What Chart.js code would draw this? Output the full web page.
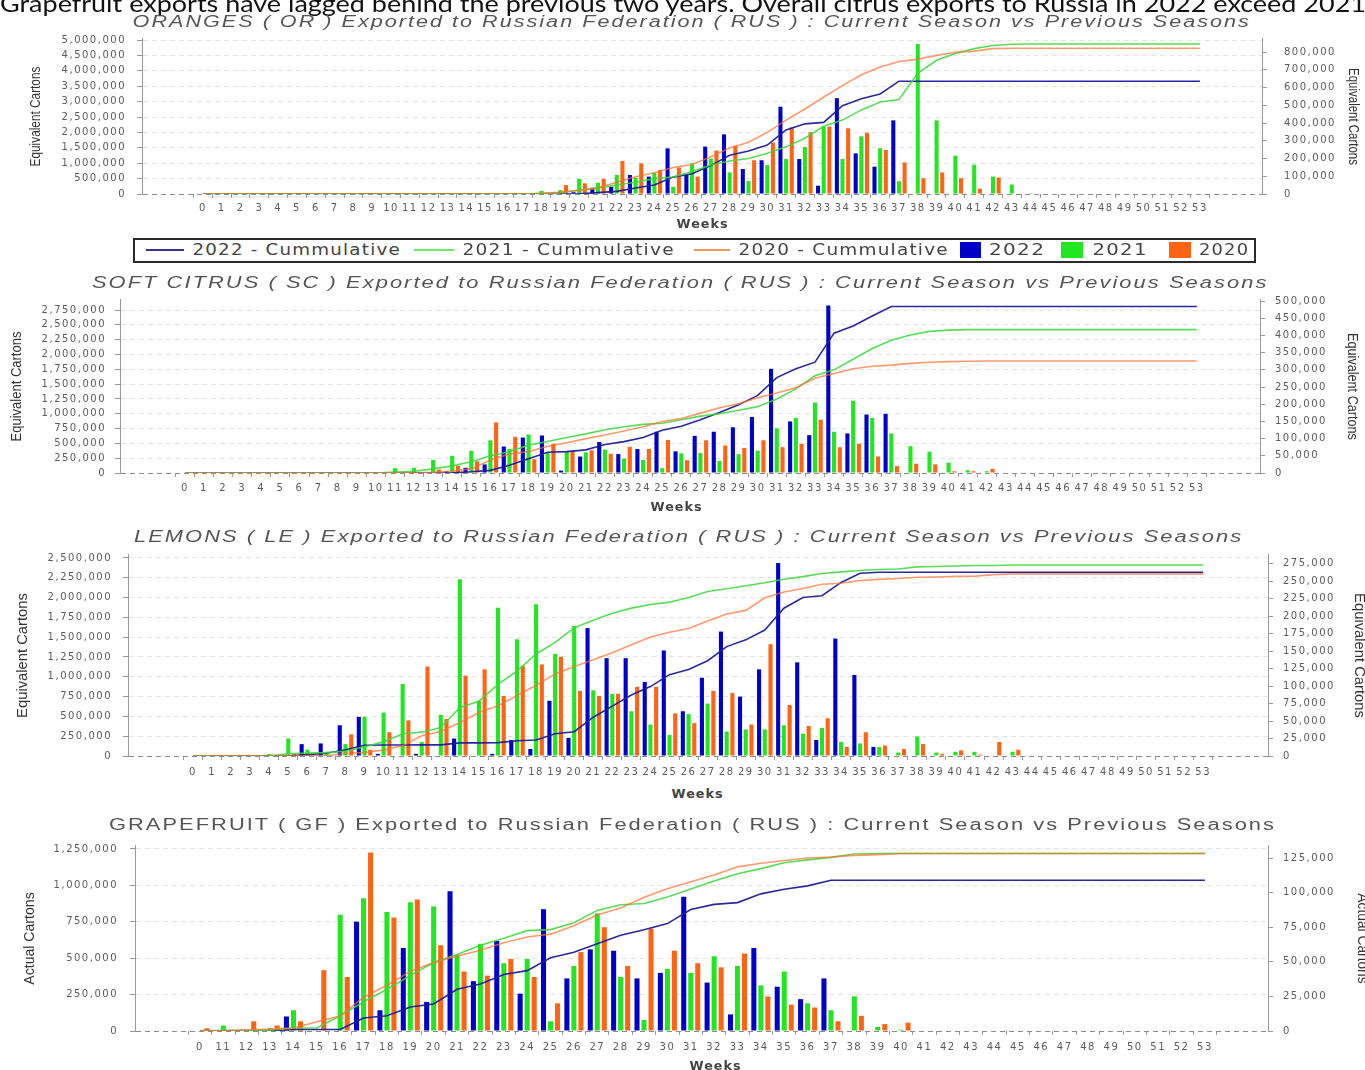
<!DOCTYPE html>
<html><head><meta charset="utf-8">
<script src="https://cdn.jsdelivr.net/npm/chart.js@4.4.1/dist/chart.umd.min.js"></script>
<style>
html,body{margin:0;padding:0;background:#fff;}
body{width:1365px;height:1070px;position:relative;overflow:hidden;}
canvas{position:absolute;left:0;}
.t{position:absolute;white-space:nowrap;}
.lg{position:absolute;}
</style></head><body>
<script>
const _ = null;
// ---------- ORANGES ----------
const OR_WEEKS = ['0','1','2','3','4','5','6','7','8','9','10','11','12','13','14','15','16','17','18','19','20','21','22','23','24','25','26','27','28','29','30','31','32','33','34','35','36','37','38','39','40','41','42','43','44','45','46','47','48','49','50','51','52','53'];
const OR_BAR_2022 = [_,_,_,_,_,_,_,_,_,_, _,_,_,_,_,_,_,_,_,_,
  10000,35000,41000,107000,98000,257000,107000,267000,336000,141000,
  190000,492000,197000,47000,540000,229000,154000,415000,_,_,
  _,_,_,_,_,_,_,_,_,_, _,_,_,_];
const OR_BAR_2021 = [_,_,_,_,_,_,_,_,_,_, _,_,_,_,_,_,_,_,17000,22000,
  85000,64000,107000,92000,120000,41000,173000,200000,122000,73000,
  163000,197000,265000,380000,197000,325000,258000,72000,845000,415000,
  216000,165000,98000,53000,5000,_,_,_,_,_, _,_,_,_];
const OR_BAR_2020 = [_,_,_,_,_,_,_,_,_,_, _,_,_,_,_,_,_,_,8000,50000,
  60000,85000,186000,173000,135000,150000,98000,245000,272000,190000,
  290000,375000,348000,380000,370000,345000,248000,178000,89000,121000,
  89000,30000,93000,_,_,_,_,_,_,_, _,_,_,_];
const OR_CUM_2022 = [0,0,0,0,0,0,0,0,0,0, 0,0,0,0,0,0,0,0,0,0,
  10000,45000,86000,193000,291000,548000,655000,922000,1258000,1399000,
  1589000,2081000,2278000,2325000,2865000,3094000,3248000,3663000,3663000,3663000,
  3663000,3663000,3663000,3663000,3663000,3663000,3663000,3663000,3663000,3663000,
  3663000,3663000,3663000,3663000];
const OR_CUM_2021 = [0,0,0,0,0,0,0,0,0,0, 0,0,0,0,0,0,0,0,20000,40000,
  120000,190000,290000,380000,500000,550000,730000,940000,1070000,1150000,
  1320000,1530000,1810000,2200000,2400000,2730000,2990000,3070000,3920000,4340000,
  4560000,4720000,4820000,4860000,4870000,4870000,4870000,4870000,4870000,4870000,
  4870000,4870000,4870000,4870000];
const OR_CUM_2020 = [0,0,0,0,0,0,0,0,0,0, 0,0,0,0,0,0,0,0,10000,60000,
  120000,200000,380000,560000,690000,860000,960000,1210000,1490000,1680000,
  2000000,2400000,2760000,3150000,3520000,3870000,4120000,4300000,4380000,4500000,
  4600000,4640000,4720000,4730000,4730000,4730000,4730000,4730000,4730000,4730000,
  4730000,4730000,4730000,4730000];
const OR_LEFT_TICKS = [0,500000,1000000,1500000,2000000,2500000,3000000,3500000,4000000,4500000,5000000];
const OR_RIGHT_TICKS = [0,100000,200000,300000,400000,500000,600000,700000,800000];

// ---------- SOFT CITRUS ----------
const SC_WEEKS = OR_WEEKS.slice();
const SC_BAR_2022 = [_,_,_,_,_,_,_,_,_,_, _,_,_,_,5000,15000,25000,77000,103000,109000,
  7000,48000,90000,55000,70000,120000,63000,108000,120000,133000,
  163000,303000,150000,110000,487000,115000,170000,172000,_,_,
  _,_,_,_,_,_,_,_,_,_, _,_,_,_];
const SC_BAR_2021 = [_,_,_,_,_,_,_,_,_,_, _,14000,15000,38000,50000,64000,95000,70000,112000,60000,
  64000,60000,68000,42000,38000,14000,57000,58000,35000,55000,
  65000,130000,160000,205000,120000,210000,160000,115000,78000,62000,
  30000,8000,5000,_,_,_,_,_,_,_, _,_,_,_];
const SC_BAR_2020 = [_,_,_,_,_,_,_,_,_,_, _,_,3000,10000,21000,34000,147000,105000,40000,85000,
  65000,66000,56000,76000,70000,96000,37000,95000,80000,73000,
  95000,75000,85000,155000,75000,85000,48000,20000,27000,25000,
  5000,5000,12000,_,_,_,_,_,_,_, _,_,_,_];
const SC_CUM_2022 = [0,0,0,0,0,0,0,0,0,0, 0,0,0,0,5000,20000,45000,130000,240000,350000,
  360000,390000,480000,530000,600000,720000,790000,900000,1020000,1150000,
  1310000,1610000,1760000,1870000,2360000,2480000,2650000,2810000,2810000,2810000,
  2810000,2810000,2810000,2810000,2810000,2810000,2810000,2810000,2810000,2810000,
  2810000,2810000,2810000,2810000];
const SC_CUM_2021 = [0,0,0,0,0,0,0,0,0,0, 0,15000,30000,70000,120000,190000,290000,360000,470000,530000,
  600000,660000,730000,780000,820000,840000,900000,960000,1000000,1060000,
  1120000,1250000,1420000,1640000,1740000,1920000,2100000,2240000,2330000,2390000,
  2410000,2420000,2420000,2420000,2420000,2420000,2420000,2420000,2420000,2420000,
  2420000,2420000,2420000,2420000];
const SC_CUM_2020 = [0,0,0,0,0,0,0,0,0,0, 0,0,3000,13000,35000,70000,220000,320000,360000,450000,
  510000,580000,640000,710000,780000,870000,920000,1010000,1100000,1170000,
  1270000,1350000,1440000,1600000,1680000,1760000,1800000,1820000,1850000,1870000,
  1880000,1885000,1890000,1890000,1890000,1890000,1890000,1890000,1890000,1890000,
  1890000,1890000,1890000,1890000];
const SC_LEFT_TICKS = [0,250000,500000,750000,1000000,1250000,1500000,1750000,2000000,2250000,2500000,2750000];
const SC_RIGHT_TICKS = [0,50000,100000,150000,200000,250000,300000,350000,400000,450000,500000];

// ---------- LEMONS ----------
const LE_WEEKS = OR_WEEKS.slice();
const LE_BAR_2022 = [_,_,_,_,_,_,17000,18000,44000,56000,
  3000,_,3000,_,25000,_,3000,23000,10000,79000,
  26000,183000,140000,140000,106000,151000,64000,112000,178000,85000,
  124000,276000,134000,23000,168000,116000,13000,_,_,_,
  _,_,_,_,_,_,_,_,_,_, _,_,_,_];
const LE_BAR_2021 = [_,_,_,_,3000,25000,9000,6000,17000,56000,
  62000,103000,20000,59000,253000,79000,212000,167000,217000,146000,
  186000,94000,89000,64000,45000,30000,60000,75000,35000,38000,
  38000,44000,32000,40000,20000,18000,13000,5000,28000,5000,
  6000,6000,_,6000,_,_,_,_,_,_, _,_,_,_];
const LE_BAR_2020 = [_,_,_,_,_,3000,_,_,31000,9000,
  34000,51000,128000,53000,115000,124000,86000,129000,131000,142000,
  93000,86000,89000,99000,99000,61000,47000,93000,90000,45000,
  160000,73000,43000,54000,13000,34000,15000,10000,17000,3000,
  8000,2000,20000,9000,_,_,_,_,_,_, _,_,_,_];
const LE_CUM_2022 = [0,0,0,0,0,0,17000,35000,79000,135000,
  138000,138000,141000,141000,166000,166000,169000,192000,202000,281000,
  307000,490000,630000,770000,876000,1027000,1091000,1203000,1381000,1466000,
  1590000,1866000,2000000,2023000,2191000,2307000,2320000,2320000,2320000,2320000,
  2320000,2320000,2320000,2320000,2320000,2320000,2320000,2320000,2320000,2320000,
  2320000,2320000,2320000,2320000];
const LE_CUM_2021 = [0,0,0,0,3000,28000,37000,43000,60000,116000,
  178000,281000,301000,360000,613000,692000,904000,1071000,1288000,1434000,
  1620000,1714000,1803000,1867000,1912000,1942000,2002000,2077000,2112000,2150000,
  2188000,2232000,2264000,2304000,2324000,2342000,2355000,2360000,2388000,2393000,
  2399000,2405000,2405000,2411000,2411000,2411000,2411000,2411000,2411000,2411000,
  2411000,2411000,2411000,2411000];
const LE_CUM_2020 = [0,0,0,0,0,3000,3000,3000,34000,43000,
  77000,128000,256000,309000,424000,548000,634000,763000,894000,1036000,
  1129000,1215000,1304000,1403000,1502000,1563000,1610000,1703000,1793000,1838000,
  1998000,2071000,2114000,2168000,2181000,2215000,2230000,2240000,2257000,2260000,
  2268000,2270000,2290000,2299000,2299000,2299000,2299000,2299000,2299000,2299000,
  2299000,2299000,2299000,2299000];
const LE_LEFT_TICKS = [0,250000,500000,750000,1000000,1250000,1500000,1750000,2000000,2250000,2500000];
const LE_RIGHT_TICKS = [0,25000,50000,75000,100000,125000,150000,175000,200000,225000,250000,275000];

// ---------- GRAPEFRUIT ----------
const GF_WEEKS = ['0','11','12','13','14','15','16','17','18','19','20','21','22','23','24','25','26','27','28','29','30','31','32','33','34','35','36','37','38','39','40','41','42','43','44','45','46','47','48','49','50','51','52','53'];
const GF_BAR_2022 = [_,_,_,_,10500,_,_,79000,15000,60000,
  21000,101000,36000,65000,27000,88000,38000,59000,58000,38000,
  42000,97000,35000,12000,60000,32000,23000,38000,_,_,
  _,_,_,_,_,_,_,_,_,_, _,_,_,_];
const GF_BAR_2021 = [_,4000,_,2000,15000,_,84000,96000,86000,93000,
  90000,55000,63000,49000,52000,7000,47000,85000,39000,8000,
  45000,42000,54000,47000,33000,43000,20000,15000,25000,3000,
  1000,_,_,_,_,_,_,_,_,_, _,_,_,_];
const GF_BAR_2020 = [2000,_,7000,4000,7000,44000,39000,129000,82000,95000,
  62000,43000,40000,52000,39000,20000,57000,75000,47000,74000,
  58000,49000,46000,56000,25000,19000,17000,7000,11000,5000,
  6000,_,_,_,_,_,_,_,_,_, _,_,_,_];
const GF_CUM_2022 = [0,0,0,0,10500,10500,10500,89500,104500,164500,
  185500,286500,322500,387500,414500,502500,540500,599500,657500,695500,
  737500,834500,869500,881500,941500,973500,996500,1034500,1034500,1034500,
  1034500,1034500,1034500,1034500,1034500,1034500,1034500,1034500,1034500,1034500,
  1034500,1034500,1034500,1034500];
const GF_CUM_2021 = [0,4000,4000,6000,21000,21000,105000,201000,287000,380000,
  470000,525000,588000,637000,689000,696000,743000,828000,867000,875000,
  920000,975000,1030000,1080000,1115000,1155000,1175000,1192000,1215000,1219000,
  1220000,1220000,1220000,1220000,1220000,1220000,1220000,1220000,1220000,1220000,
  1220000,1220000,1220000,1220000];
const GF_CUM_2020 = [2000,2000,9000,13000,20000,64000,103000,232000,314000,409000,
  471000,514000,554000,606000,645000,665000,722000,797000,844000,918000,
  976000,1025000,1071000,1127000,1152000,1171000,1188000,1195000,1206000,1211000,
  1217000,1217000,1217000,1217000,1217000,1217000,1217000,1217000,1217000,1217000,
  1217000,1217000,1217000,1217000];
const GF_LEFT_TICKS = [0,250000,500000,750000,1000000,1250000];
const GF_RIGHT_TICKS = [0,25000,50000,75000,100000,125000];

const LEGEND_LABELS = ['2022 - Cummulative','2021 - Cummulative','2020 - Cummulative','2022','2021','2020'];

// ---------- styling ----------
const W = 1365;
const C_BAR = ['#0000c8','#22e622','#ff6414'];
const C_LINE = ['rgba(30,30,150,0.95)','rgba(60,215,60,0.85)','rgba(255,110,50,0.7)'];
const TICKC = '#5c5c5c';
const AXC = '#9a9a9a';

Chart.defaults.font.family = 'DejaVu Sans';
Chart.register({id:'ls',
  beforeUpdate(c){ c.ctx.letterSpacing = '1.5px'; },
  beforeDraw(c){ c.ctx.letterSpacing = '1.5px'; }
});

function makeChart(p) {
  const padTop = 24, xH = 30;
  const H = padTop + (p.B - p.T) + xH;
  const cv = document.createElement('canvas');
  cv.width = W; cv.height = H;
  cv.style.top = (p.T - padTop) + 'px';
  document.body.appendChild(cv);
  const pts = arr => arr.map((v, i) => ({x: i, y: v}));
  const line = (lab, d, c, ord) => ({type:'line', label:lab, data:pts(d), borderColor:c, borderWidth:1.6,
    pointRadius:0, tension:0, fill:false, yAxisID:'y', order:ord});
  const bar = (lab, d, c) => ({type:'bar', label:lab, data:pts(d), backgroundColor:c, borderWidth:0,
    yAxisID:'y1', order:5, barPercentage:0.72, categoryPercentage:0.9});
  const fmt = v => Number(v).toLocaleString('en-US');
  new Chart(cv, {
    type:'bar',
    data:{datasets:[
      line(LEGEND_LABELS[0], p.c22, C_LINE[0], 2),
      line(LEGEND_LABELS[1], p.c21, C_LINE[1], 1),
      line(LEGEND_LABELS[2], p.c20, C_LINE[2], 0),
      bar(LEGEND_LABELS[3], p.b22, C_BAR[0]),
      bar(LEGEND_LABELS[4], p.b21, C_BAR[1]),
      bar(LEGEND_LABELS[5], p.b20, C_BAR[2])
    ]},
    options:{
      responsive:false, animation:false, devicePixelRatio:1,
      layout:{padding:{top:padTop,left:0,right:0,bottom:0}},
      plugins:{legend:{display:false}, tooltip:{enabled:false}, title:{display:false}},
      scales:{
        x:{type:'linear', min:p.xmin, max:p.xmax, offset:false,
          afterFit:s=>{s.height = xH;},
          afterBuildTicks:s=>{s.ticks = p.weeks.map((w,i)=>({value:i}));},
          ticks:{autoSkip:false, maxRotation:0, minRotation:0, padding:p.xpad, color:TICKC,
            font:{size:p.xfont||10}, callback:v=>p.weeks[v]},
          grid:{drawOnChartArea:false, drawTicks:true, tickLength:4, tickColor:AXC},
          border:{display:false}},
        y:{type:'linear', position:'left', min:0, max:p.lmax,
          afterFit:s=>{s.width = p.L;},
          afterBuildTicks:s=>{s.ticks = p.lt.map(v=>({value:v}));},
          ticks:{padding:p.lpad, color:TICKC, font:{size:10}, callback:fmt},
          grid:{color:c=>(c.tick && c.tick.value===0) ? '#8c8c8c' : '#e4e4e4', tickLength:5, tickColor:AXC, tickBorderDash:[]},
          border:{display:true, color:AXC, width:1, dash:[5,4]}},
        y1:{type:'linear', position:'right', min:0, max:p.rmax,
          afterFit:s=>{s.width = W - p.R;},
          afterBuildTicks:s=>{s.ticks = p.rt.map(v=>({value:v}));},
          ticks:{padding:p.rpad, color:TICKC, font:{size:10}, callback:fmt},
          grid:{drawOnChartArea:false, tickLength:5, tickColor:AXC, tickBorderDash:[]},
          border:{display:true, color:AXC, width:1}}
      }
    }
  });
}

makeChart({L:142,R:1262,T:38,B:194,xmin:-3.24,xmax:56.3,lmax:5065000,rmax:879000,lpad:11,rpad:17,xpad:4,
  weeks:OR_WEEKS,b22:OR_BAR_2022,b21:OR_BAR_2021,b20:OR_BAR_2020,c22:OR_CUM_2022,c21:OR_CUM_2021,c20:OR_CUM_2020,
  lt:OR_LEFT_TICKS,rt:OR_RIGHT_TICKS});
makeChart({L:120,R:1260,T:299,B:473,xmin:-3.4,xmax:56.31,lmax:2936000,rmax:506000,lpad:9,rpad:10,xpad:5,
  weeks:SC_WEEKS,b22:SC_BAR_2022,b21:SC_BAR_2021,b20:SC_BAR_2020,c22:SC_CUM_2022,c21:SC_CUM_2021,c20:SC_CUM_2020,
  lt:SC_LEFT_TICKS,rt:SC_RIGHT_TICKS});
makeChart({L:128,R:1268,T:554,B:756,xmin:-3.41,xmax:56.4,lmax:2550000,rmax:289000,lpad:11,rpad:10,xpad:6,
  weeks:LE_WEEKS,b22:LE_BAR_2022,b21:LE_BAR_2021,b20:LE_BAR_2020,c22:LE_CUM_2022,c21:LE_CUM_2021,c20:LE_CUM_2020,
  lt:LE_LEFT_TICKS,rt:LE_RIGHT_TICKS});
makeChart({L:135,R:1268,T:845,B:1031,xmin:-2.78,xmax:45.7,lmax:1277000,rmax:134400,lpad:12,rpad:10,xpad:6,
  weeks:GF_WEEKS,b22:GF_BAR_2022,b21:GF_BAR_2021,b20:GF_BAR_2020,c22:GF_CUM_2022,c21:GF_CUM_2021,c20:GF_CUM_2020,
  lt:GF_LEFT_TICKS,rt:GF_RIGHT_TICKS});

// ---------- HTML text (fitted by horizontal scaling) ----------
function addText(txt, o) {
  const d = document.createElement('div');
  d.className = 't';
  d.textContent = txt;
  d.style.fontFamily = o.family || "'Liberation Sans', Arial, sans-serif";
  d.style.fontSize = o.size + 'px';
  d.style.lineHeight = o.size + 'px';
  d.style.fontStyle = o.italic ? 'italic' : 'normal';
  d.style.fontWeight = o.bold ? 'bold' : 'normal';
  d.style.color = o.color || '#444';
  if (o.ls) d.style.letterSpacing = o.ls + 'px';
  document.body.appendChild(d);
  const w = d.offsetWidth, h = d.offsetHeight;
  const k = o.width ? o.width / w : 1;
  let tf = '';
  if (o.left !== undefined) {
    d.style.left = o.left + 'px';
    d.style.transformOrigin = 'left center';
  } else {
    d.style.left = (o.cx - w / 2) + 'px';
    d.style.transformOrigin = 'center center';
  }
  d.style.top = (o.cy - h / 2) + 'px';
  if (o.rot) tf += 'rotate(' + o.rot + 'deg) ';
  tf += 'scaleX(' + k + ')';
  d.style.transform = tf;
  return d;
}

addText('Grapefruit exports have lagged behind the previous two years. Overall citrus exports to Russia in 2022 exceed 2021',
  {left:0, cy:3, size:24, width:1366, family:"Lato, 'Open Sans', sans-serif", color:'#111'});

const TF = "'Liberation Sans', Arial, sans-serif";
addText('ORANGES ( OR ) Exported to Russian Federation ( RUS ) : Current Season vs Previous Seasons',
  {cx:692, cy:22, size:16, ls:1.5, width:1119, italic:true, color:'#555', family:TF});
addText('SOFT CITRUS ( SC ) Exported to Russian Federation ( RUS ) : Current Season vs Previous Seasons',
  {cx:680, cy:283, size:16, ls:1.5, width:1176, italic:true, color:'#555', family:TF});
addText('LEMONS ( LE ) Exported to Russian Federation ( RUS ) : Current Season vs Previous Seasons',
  {cx:688, cy:537, size:16, ls:1.5, width:1109, italic:true, color:'#555', family:TF});
addText('GRAPEFRUIT ( GF ) Exported to Russian Federation ( RUS ) : Current Season vs Previous Seasons',
  {cx:692, cy:825, size:16, ls:1.5, width:1167, italic:false, color:'#555', family:TF});

const WF = "'DejaVu Sans', sans-serif";
addText('Weeks', {cx:702, cy:224, size:12, ls:1, width:52, bold:true, color:'#444', family:WF});
addText('Weeks', {cx:676, cy:507, size:12, ls:1, width:52, bold:true, color:'#444', family:WF});
addText('Weeks', {cx:697, cy:794, size:12, ls:1, width:52, bold:true, color:'#444', family:WF});
addText('Weeks', {cx:715, cy:1066, size:12, ls:1, width:52, bold:true, color:'#444', family:WF});

const AF = "'Liberation Sans', Arial, sans-serif";
addText('Equivalent Cartons', {cx:34, cy:116, size:15, width:100, rot:-90, color:'#333', family:AF});
addText('Equivalent Cartons', {cx:1354, cy:116, size:15, width:97, rot:90, color:'#333', family:AF});
addText('Equivalent Cartons', {cx:15, cy:386, size:15, width:110, rot:-90, color:'#333', family:AF});
addText('Equivalent Cartons', {cx:1353, cy:386, size:15, width:107, rot:90, color:'#333', family:AF});
addText('Equivalent Cartons', {cx:21, cy:655, size:15, width:125, rot:-90, color:'#333', family:AF});
addText('Equivalent Cartons', {cx:1360, cy:655, size:15, width:125, rot:90, color:'#333', family:AF});
addText('Actual Cartons', {cx:28, cy:938, size:15, width:92, rot:-90, color:'#333', family:AF});
addText('Actual Cartons', {cx:1363, cy:938, size:15, width:90, rot:90, color:'#333', family:AF});

// ---------- legend ----------
function box(x, y, w, h, style) {
  const d = document.createElement('div');
  d.className = 'lg';
  d.style.left = x + 'px'; d.style.top = y + 'px';
  d.style.width = w + 'px'; d.style.height = h + 'px';
  Object.assign(d.style, style || {});
  document.body.appendChild(d);
  return d;
}
box(133, 238, 1119, 21, {border:'2px solid #2a2a2a', background:'#fff'});
const LG_LINE_C = ['#333399','#66ee66','#e89a6a'];
box(146, 249, 38, 2, {background:LG_LINE_C[0]});
box(414, 249, 40, 2, {background:LG_LINE_C[1]});
box(694, 249, 36, 2, {background:LG_LINE_C[2]});
box(960, 242, 21, 16, {background:C_BAR[0]});
box(1061, 242, 22, 16, {background:C_BAR[1]});
box(1169, 242, 22, 16, {background:C_BAR[2]});
const LF = "'DejaVu Sans', sans-serif";
addText(LEGEND_LABELS[0], {cx:296, cy:250, size:15, ls:1, width:208, color:'#444', family:LF});
addText(LEGEND_LABELS[1], {cx:568, cy:250, size:15, ls:1, width:212, color:'#444', family:LF});
addText(LEGEND_LABELS[2], {cx:843, cy:250, size:15, ls:1, width:210, color:'#444', family:LF});
addText(LEGEND_LABELS[3], {cx:1017, cy:250, size:15, ls:1, width:56, color:'#444', family:LF});
addText(LEGEND_LABELS[4], {cx:1120, cy:250, size:15, ls:1, width:55, color:'#444', family:LF});
addText(LEGEND_LABELS[5], {cx:1224, cy:250, size:15, ls:1, width:50, color:'#444', family:LF});
</script>
</body></html>
